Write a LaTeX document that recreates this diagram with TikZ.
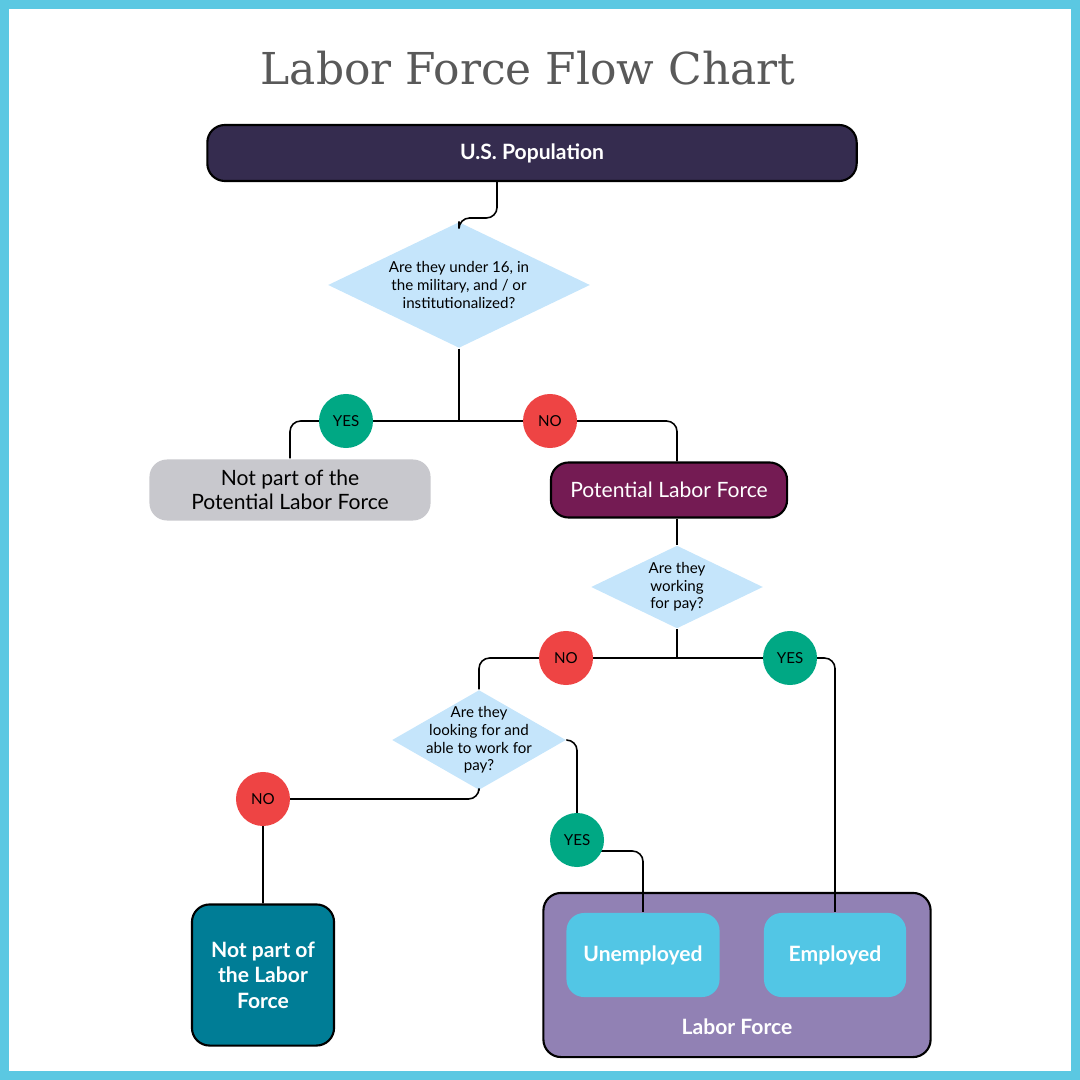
\documentclass[tikz,border=0pt]{standalone}
\usepackage{fontspec}
\setmainfont{Lato}
\newfontfamily\titlefont{DejaVu Serif}
\usetikzlibrary{shapes.geometric,positioning}
\definecolor{frameblue}{HTML}{5BC8E2}
\definecolor{popdark}{HTML}{352C4F}
\definecolor{qblue}{HTML}{C5E5FB}
\definecolor{yesgreen}{HTML}{00A884}
\definecolor{nored}{HTML}{EE4444}
\definecolor{greybox}{HTML}{C8C8CD}
\definecolor{plum}{HTML}{741B53}
\definecolor{teal}{HTML}{007D96}
\definecolor{lavender}{HTML}{9181B4}
\definecolor{skyblue}{HTML}{52C6E5}
\tikzset{
  box/.style={rounded corners=5pt,draw=black,line width=0.6pt,inner sep=0pt,align=center},
  question/.style={diamond,fill=qblue,inner sep=0pt},
  qtext/.style={align=center,font=\fontsize{4.3}{5}\selectfont},
  yes/.style={circle,fill=yesgreen,minimum size=0.54cm,inner sep=0pt,font=\fontsize{4.3}{5}\selectfont},
  no/.style={circle,fill=nored,minimum size=0.54cm,inner sep=0pt,font=\fontsize{4.3}{5}\selectfont},
  link/.style={line width=0.45pt,rounded corners=3pt}
}
\begin{document}
\begin{tikzpicture}[x=0.01cm,y=-0.01cm]
\useasboundingbox (0,0) rectangle (1080,1080);
\draw[frameblue,line width=3.5pt] (3,3) rectangle (1077,1077);
\node[font=\titlefont\fontsize{12.5}{15}\selectfont,text=black!65] (title) at (528,68) {Labor Force Flow Chart};
% boxes
\node[box,fill=popdark,text=white,font=\bfseries\fontsize{6}{7}\selectfont,minimum width=6.49cm,minimum height=0.56cm] (pop) at (532,153) {U.S. Population};
\node[question,minimum width=2.62cm,minimum height=1.26cm] (q1) at (459,285) {};
\node[qtext] (q1t) at (q1) {Are they under 16, in\\the military, and / or\\institutionalized?};
\node[box,draw=none,fill=greybox,font=\fontsize{6}{7}\selectfont,minimum width=2.81cm,minimum height=0.61cm] (notpot) at (290,490) {Not part of the\\Potential Labor Force};
\node[box,fill=plum,text=white,font=\fontsize{6}{7}\selectfont,minimum width=2.36cm,minimum height=0.55cm] (pot) at (669,490) {Potential Labor Force};
\node[question,minimum width=1.72cm,minimum height=0.83cm] (q2) at (677,587) {};
\node[qtext] (q2t) at (q2) {Are they\\working\\for pay?};
\node[question,minimum width=1.74cm,minimum height=1.0cm] (q3) at (479,740) {};
\node[qtext] (q3t) at (q3) {Are they\\looking for and\\able to work for\\pay?};
\node[box,fill=teal,text=white,font=\bfseries\fontsize{6}{7.2}\selectfont,minimum width=1.42cm,minimum height=1.41cm] (notlab) at (263,975) {Not part of\\the Labor\\Force};
\node[box,fill=lavender,minimum width=3.87cm,minimum height=1.64cm] (lab) at (737,975) {};
\node[text=white,font=\bfseries\fontsize{6}{7}\selectfont] (labt) at (737,1027) {Labor Force};
\node[box,draw=none,fill=skyblue,text=white,font=\bfseries\fontsize{6}{7}\selectfont,minimum width=1.53cm,minimum height=0.84cm] (unemp) at (643,955) {Unemployed};
\node[box,draw=none,fill=skyblue,text=white,font=\bfseries\fontsize{6}{7}\selectfont,minimum width=1.42cm,minimum height=0.84cm] (emp) at (835,955) {Employed};
% connectors
\coordinate (c0) at (497,218);
\draw[link] (pop.south -| c0) -- (c0) -| (q1.north);
\coordinate (c1) at (459,421);
\draw[link] (q1.south) -- (c1);
\draw[link] (notpot.north) |- (c1) -| (pot.north -| 677,0);
\draw[link] (pot.south -| q2.north) -- (q2.north);
\coordinate (c2) at (677,658);
\draw[link] (q2.south) -- (c2);
\draw[link] (q3.north) |- (c2) -| (emp.north);
\coordinate (c3) at (479,799);
\draw[link] (q3.south) -- (c3) -| (notlab.north);
\coordinate (c4) at (577,851);
\draw[link] (q3.east) -- (q3.east -| c4) -- (c4) -| (unemp.north);
% answers
\node[yes] (yes1) at (346,421) {YES};
\node[no] (no1) at (550,421) {NO};
\node[no] (no2) at (566,658) {NO};
\node[yes] (yes2) at (790,658) {YES};
\node[no] (no3) at (263,799) {NO};
\node[yes] (yes3) at (577,840) {YES};
\end{tikzpicture}
\end{document}
